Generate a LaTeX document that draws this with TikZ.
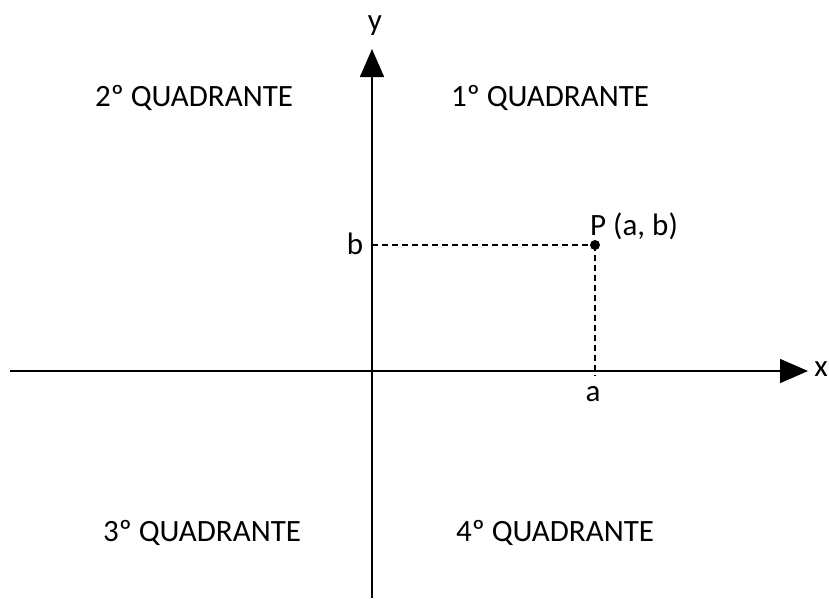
\documentclass[tikz,border=0pt]{standalone}
\usepackage{fontspec}
\setmainfont{Carlito}
\usetikzlibrary{arrows.meta}
\begin{document}
\begin{tikzpicture}[x=1pt,y=-1pt,
  lbl/.style={font=\fontsize{31}{34}\selectfont, inner sep=0pt},
  axis/.style={line width=1.6pt, -{Triangle[width=24pt,length=28pt]}},
  guide/.style={line width=1.2pt, dash pattern=on 6pt off 4pt}]
\useasboundingbox (0,0) rectangle (829,598);
\coordinate (xs) at (10,371);
\coordinate (xe) at (808,371);
\coordinate (ys) at (372,598);
\coordinate (ye) at (372,49);
\coordinate (B) at (372,245);
\coordinate (A) at (595,376);
\node[circle, fill=black, inner sep=0pt, minimum size=10pt] (P) at (595,245) {};
\draw[axis] (xs) -- (xe);
\draw[axis] (ys) -- (ye);
\draw[guide] (B) -- (P.center);
\draw[guide] (P.center) -- (A);
\node[lbl] (ylab) at (375,26) {y};
\node[lbl] (xlab) at (821,369) {x};
\node[lbl] (blab) at (355,244) {b};
\node[lbl] (alab) at (593,394) {a};
\node[lbl, anchor=west] (plab) at (590,226) {P (a, b)};
\node[lbl] (q2) at (194,98) {2º QUADRANTE};
\node[lbl] (q1) at (550,98) {1º QUADRANTE};
\node[lbl] (q3) at (202,533) {3º QUADRANTE};
\node[lbl] (q4) at (555,533) {4º QUADRANTE};
\end{tikzpicture}
\end{document}
